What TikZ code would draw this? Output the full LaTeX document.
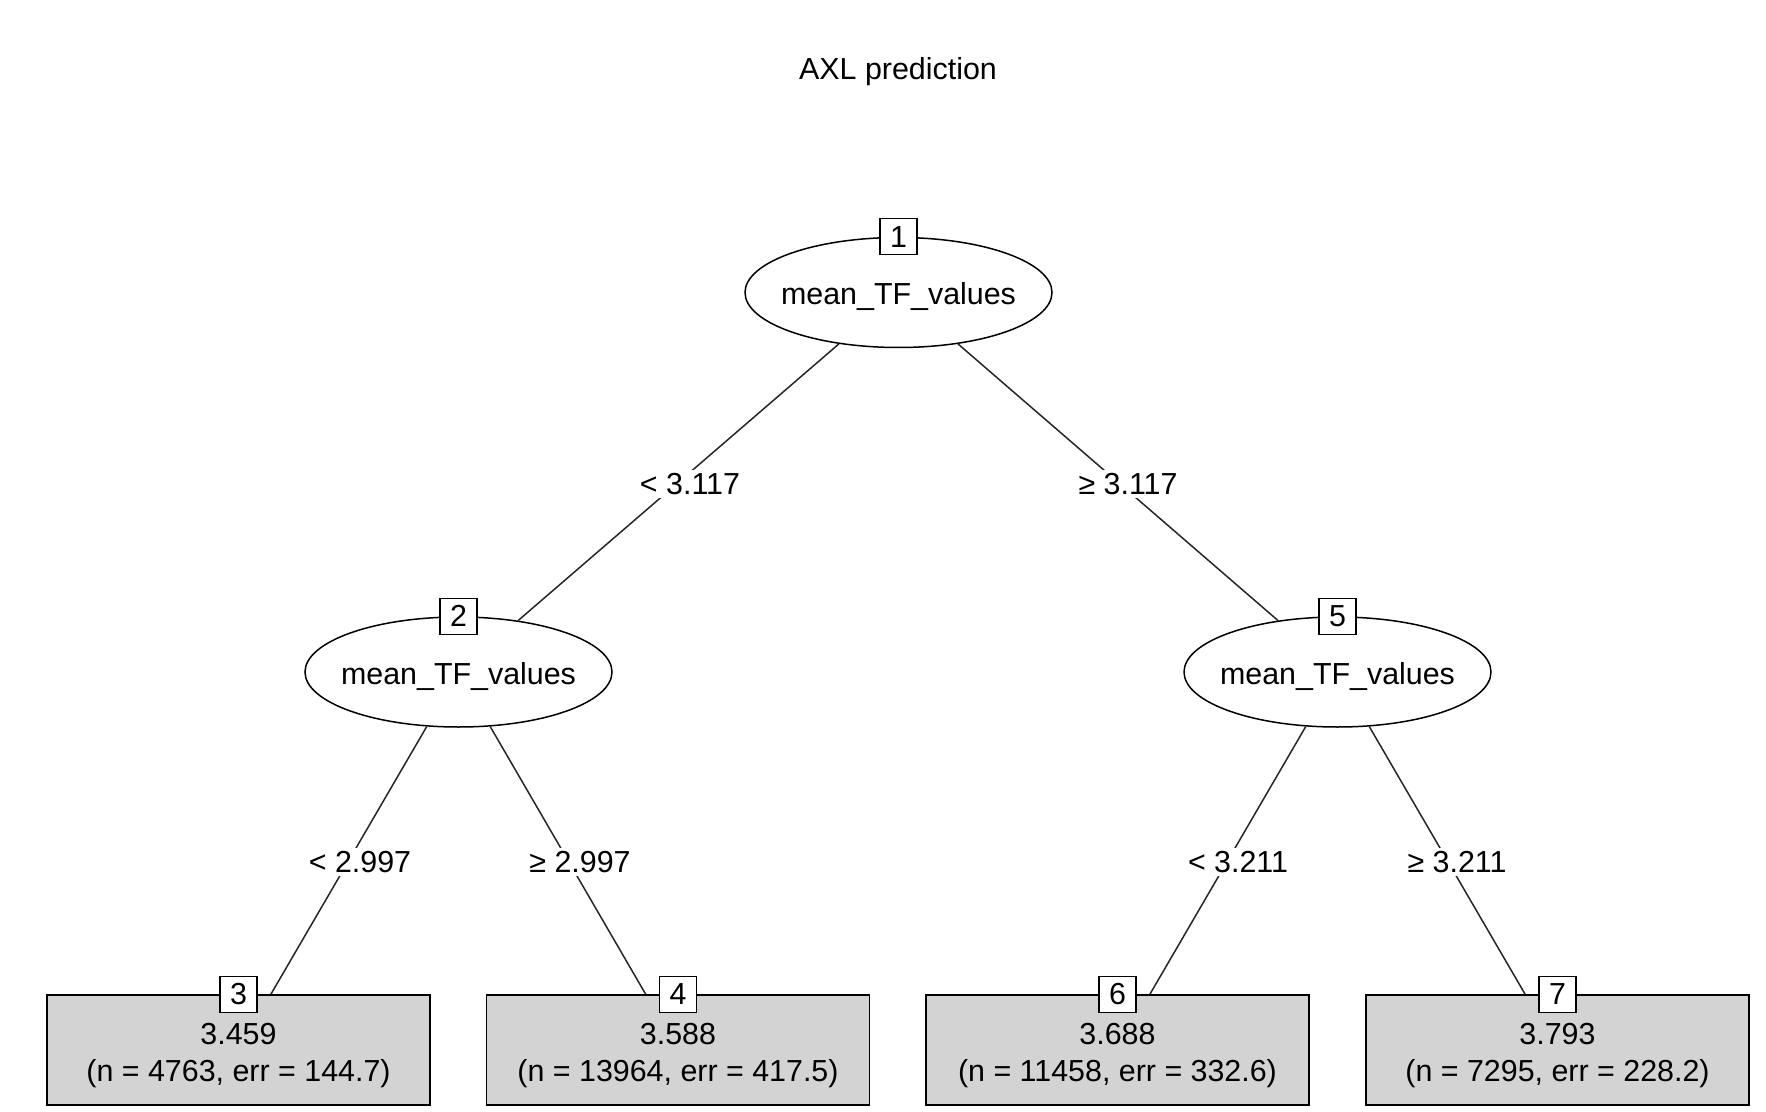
\documentclass[tikz,border=0pt]{standalone}
\usepackage{fontspec}
\setmainfont{Liberation Sans}
\usetikzlibrary{shapes.geometric}
\definecolor{leafgray}{RGB}{211,211,211}
\newcommand{\ellipsetext}[1]{\makebox[0pt]{\smash{\raisebox{-6pt}{#1}}}}
\newcommand{\leaftext}[2]{\rule{0pt}{16.5pt}#1\\#2}
\begin{document}
\begin{tikzpicture}[x=0.5pt,y=-0.5pt,
  every node/.style={font=\fontsize{15.2}{18.6}\selectfont},
  inner/.style={ellipse, draw, line width=0.75pt, fill=white, minimum width=153.5pt, minimum height=55pt, inner sep=0pt},
  idbox/.style={draw, fill=white, line width=0.75pt, minimum width=18.5pt, minimum height=18pt, inner sep=0pt},
  leaf/.style={draw, fill=leafgray, line width=0.75pt, minimum width=191.5pt, minimum height=55pt, inner sep=0pt, align=center},
  edgelab/.style={fill=white, inner sep=1.5pt},
  edgeline/.style={line width=0.75pt, draw=black!85}
]
\useasboundingbox (0,0) rectangle (1766,1112);
\node (title) at (898,71.5) {AXL prediction};
% inner nodes
\node[inner] (n1) at (898.5,292.5) {\ellipsetext{mean\_TF\_values}};
\node[inner] (n2) at (458.5,672) {\ellipsetext{mean\_TF\_values}};
\node[inner] (n5) at (1337.5,672) {\ellipsetext{mean\_TF\_values}};
% leaves
\node[leaf] (n3) at (238.5,1050) {\leaftext{3.459}{(n = 4763, err = 144.7)}};
\node[leaf] (n4) at (678,1050) {\leaftext{3.588}{(n = 13964, err = 417.5)}};
\node[leaf] (n6) at (1117.5,1050) {\leaftext{3.688}{(n = 11458, err = 332.6)}};
\node[leaf] (n7) at (1557.5,1050) {\leaftext{3.793}{(n = 7295, err = 228.2)}};
% edges
\draw[edgeline] (n1) -- (n2);
\draw[edgeline] (n1) -- (n5);
\draw[edgeline] (n2) -- (n3);
\draw[edgeline] (n2) -- (n4);
\draw[edgeline] (n5) -- (n6);
\draw[edgeline] (n5) -- (n7);
% id boxes
\node[idbox] (id1) at (n1.north) {1};
\node[idbox] (id2) at (n2.north) {2};
\node[idbox] (id5) at (n5.north) {5};
\node[idbox] (id3) at (n3.north) {3};
\node[idbox] (id4) at (n4.north) {4};
\node[idbox] (id6) at (n6.north) {6};
\node[idbox] (id7) at (n7.north) {7};
% edge labels
\node[edgelab] (l12) at (690,484) {< 3.117};
\node[edgelab] (l15) at (1128,484) {≥ 3.117};
\node[edgelab] (l23) at (360,862) {< 2.997};
\node[edgelab] (l24) at (580,862) {≥ 2.997};
\node[edgelab] (l56) at (1238,862) {< 3.211};
\node[edgelab] (l57) at (1457,862) {≥ 3.211};
\end{tikzpicture}
\end{document}
